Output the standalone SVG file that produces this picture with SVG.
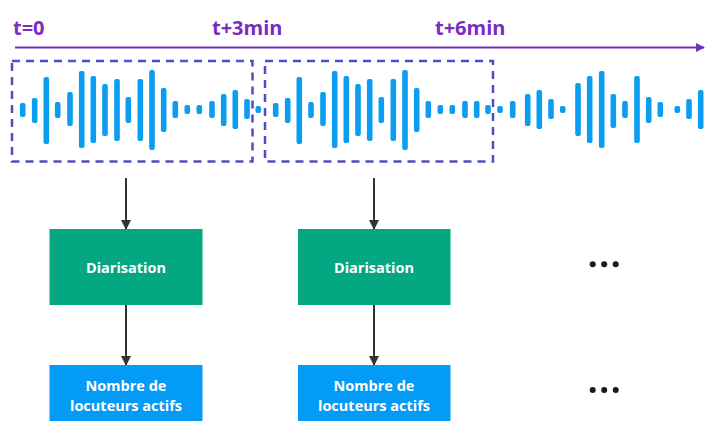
<svg xmlns="http://www.w3.org/2000/svg" width="705" height="421" viewBox="0 0 705 421">
<defs>
<style>
.t{font-family:"Open Sans","Liberation Sans",sans-serif;font-weight:700;}
.time{fill:#7B2CBF;font-size:20px;}
.lbl{fill:#ffffff;font-size:14.5px;text-anchor:middle;}
.bar{fill:#0A9DF2;}
.win{fill:none;stroke:#4B4FBF;stroke-width:2.5;stroke-dasharray:8 6;}
.conn{stroke:#333333;stroke-width:2;fill:none;marker-end:url(#ah);}
.green{fill:#03A882;}
.blue{fill:#039BF5;}
</style>
<marker id="ah" viewBox="0 0 10 10" refX="9" refY="5" markerWidth="5" markerHeight="5" orient="auto" markerUnits="strokeWidth">
<path d="M0,0 L10,5 L0,10 z" fill="#333333"/>
</marker>
<marker id="tah" viewBox="0 0 10 10" refX="9" refY="5" markerWidth="4" markerHeight="4" orient="auto" markerUnits="strokeWidth">
<path d="M0,0 L10,5 L0,10 z" fill="#7B2CBF"/>
</marker>
</defs>
<rect width="705" height="421" fill="#ffffff"/>

<g id="timeline">
<line x1="15" y1="47.5" x2="704" y2="47.5" stroke="#7B2CBF" stroke-width="2.2" marker-end="url(#tah)"/>
<text class="t time" x="13" y="35">t=0</text>
<text class="t time" x="212" y="35">t+3min</text>
<text class="t time" x="435" y="35">t+6min</text>
</g>

<g id="waveform">
<rect class="bar" x="19.9" y="103" width="5.6" height="14" rx="2"/>
<rect class="bar" x="31.9" y="98" width="5.6" height="25" rx="2"/>
<rect class="bar" x="43.5" y="77" width="5.6" height="67" rx="2"/>
<rect class="bar" x="54.9" y="102" width="5.6" height="16" rx="2"/>
<rect class="bar" x="67.2" y="92" width="5.6" height="34" rx="2"/>
<rect class="bar" x="78.9" y="71" width="5.6" height="77" rx="2"/>
<rect class="bar" x="90.5" y="76" width="5.6" height="67" rx="2"/>
<rect class="bar" x="102.2" y="84" width="5.6" height="52" rx="2"/>
<rect class="bar" x="114.2" y="79" width="5.6" height="62" rx="2"/>
<rect class="bar" x="125.5" y="97" width="5.6" height="26" rx="2"/>
<rect class="bar" x="137.5" y="79" width="5.6" height="62" rx="2"/>
<rect class="bar" x="149.2" y="70" width="5.6" height="80" rx="2"/>
<rect class="bar" x="160.9" y="88" width="5.6" height="44" rx="2"/>
<rect class="bar" x="172.5" y="101" width="5.6" height="17" rx="2"/>
<rect class="bar" x="184.5" y="105" width="5.6" height="9" rx="2"/>
<rect class="bar" x="196.5" y="105" width="5.6" height="9" rx="2"/>
<rect class="bar" x="209.2" y="101" width="5.6" height="17" rx="2"/>
<rect class="bar" x="220.9" y="94" width="5.6" height="32" rx="2"/>
<rect class="bar" x="232.5" y="90" width="5.6" height="39" rx="2"/>
<rect class="bar" x="244.2" y="99" width="5.6" height="20" rx="2"/>
<rect class="bar" x="255.5" y="106" width="5.6" height="7" rx="2"/>
<rect class="bar" x="272.9" y="103" width="5.6" height="14" rx="2"/>
<rect class="bar" x="284.9" y="98" width="5.6" height="25" rx="2"/>
<rect class="bar" x="296.5" y="77" width="5.6" height="67" rx="2"/>
<rect class="bar" x="308.2" y="102" width="5.6" height="16" rx="2"/>
<rect class="bar" x="320.2" y="92" width="5.6" height="34" rx="2"/>
<rect class="bar" x="331.9" y="71" width="5.6" height="77" rx="2"/>
<rect class="bar" x="343.5" y="76" width="5.6" height="67" rx="2"/>
<rect class="bar" x="355.2" y="84" width="5.6" height="52" rx="2"/>
<rect class="bar" x="366.9" y="79" width="5.6" height="62" rx="2"/>
<rect class="bar" x="378.5" y="97" width="5.6" height="26" rx="2"/>
<rect class="bar" x="390.5" y="79" width="5.6" height="62" rx="2"/>
<rect class="bar" x="402.2" y="70" width="5.6" height="80" rx="2"/>
<rect class="bar" x="413.9" y="88" width="5.6" height="44" rx="2"/>
<rect class="bar" x="425.5" y="101" width="5.6" height="17" rx="2"/>
<rect class="bar" x="437.5" y="105" width="5.6" height="9" rx="2"/>
<rect class="bar" x="449.5" y="105" width="5.6" height="9" rx="2"/>
<rect class="bar" x="462.2" y="101" width="5.6" height="17" rx="2"/>
<rect class="bar" x="473.9" y="101" width="5.6" height="17" rx="2"/>
<rect class="bar" x="485.2" y="105" width="5.6" height="9" rx="2"/>
<rect class="bar" x="497.2" y="106" width="5.6" height="7" rx="2"/>
<rect class="bar" x="509.9" y="101" width="5.6" height="17" rx="2"/>
<rect class="bar" x="524.9" y="94" width="5.6" height="32" rx="2"/>
<rect class="bar" x="536.5" y="90" width="5.6" height="39" rx="2"/>
<rect class="bar" x="548.2" y="99" width="5.6" height="20" rx="2"/>
<rect class="bar" x="559.9" y="106" width="5.6" height="7" rx="2"/>
<rect class="bar" x="575.2" y="83" width="5.6" height="53" rx="2"/>
<rect class="bar" x="586.9" y="76" width="5.6" height="67" rx="2"/>
<rect class="bar" x="598.9" y="71" width="5.6" height="77" rx="2"/>
<rect class="bar" x="610.5" y="94" width="5.6" height="34" rx="2"/>
<rect class="bar" x="622.2" y="101" width="5.6" height="17" rx="2"/>
<rect class="bar" x="634.2" y="76" width="5.6" height="67" rx="2"/>
<rect class="bar" x="645.9" y="97" width="5.6" height="26" rx="2"/>
<rect class="bar" x="657.5" y="102" width="5.6" height="15" rx="2"/>
<rect class="bar" x="674.5" y="106" width="5.6" height="7" rx="2"/>
<rect class="bar" x="686.2" y="99" width="5.6" height="20" rx="2"/>
<rect class="bar" x="697.9" y="90" width="5.6" height="39" rx="2"/>
</g>

<g id="window1"><rect class="win" x="12" y="61" width="240.5" height="100.5"/></g>
<g id="window2"><rect class="win" x="265" y="61" width="228" height="100.5"/></g>

<g id="connectors">
<line class="conn" x1="126" y1="178" x2="126" y2="229"/>
<line class="conn" x1="126" y1="305" x2="126" y2="365"/>
<line class="conn" x1="374" y1="178" x2="374" y2="229"/>
<line class="conn" x1="374" y1="305" x2="374" y2="365"/>
</g>

<g id="diar1">
<rect class="green" x="49.5" y="229" width="153" height="76"/>
<text class="t lbl" x="126" y="273">Diarisation</text>
</g>
<g id="count1">
<rect class="blue" x="49.5" y="365" width="153" height="60"/>
<text class="t lbl" x="126" y="390.5">Nombre de</text>
<text class="t lbl" x="126" y="410.5">locuteurs actifs</text>
</g>
<g id="diar2">
<rect class="green" x="298" y="229" width="152.5" height="76"/>
<text class="t lbl" x="374" y="273">Diarisation</text>
</g>
<g id="count2">
<rect class="blue" x="298" y="365" width="152.5" height="60"/>
<text class="t lbl" x="374" y="390.5">Nombre de</text>
<text class="t lbl" x="374" y="410.5">locuteurs actifs</text>
</g>

<g id="more1" fill="#1a1a1a">
<circle cx="592.7" cy="264.3" r="3"/>
<circle cx="604.2" cy="264.3" r="3"/>
<circle cx="615.7" cy="264.3" r="3"/>
</g>
<g id="more2" fill="#1a1a1a">
<circle cx="592.7" cy="390" r="3"/>
<circle cx="604.2" cy="390" r="3"/>
<circle cx="615.7" cy="390" r="3"/>
</g>
</svg>
